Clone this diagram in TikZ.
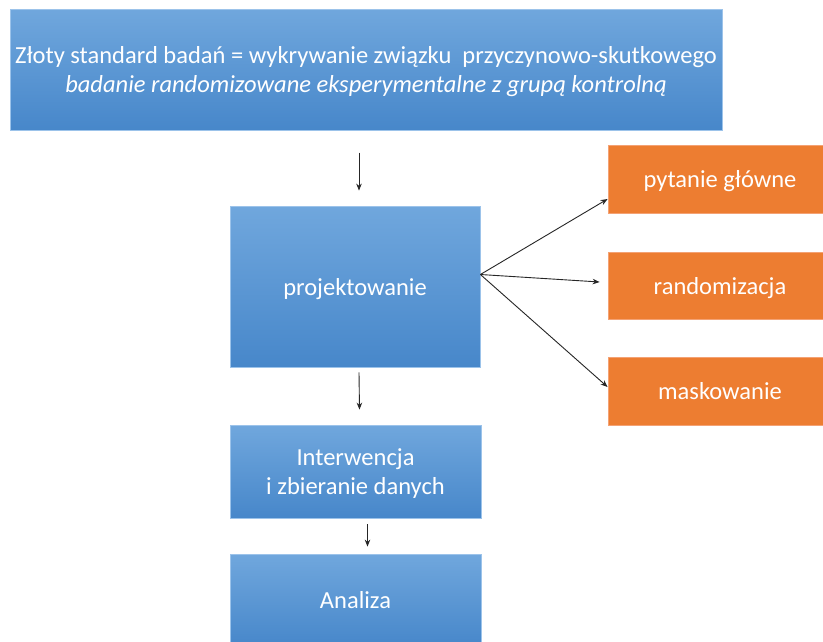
\documentclass[tikz,border=0pt]{standalone}
\usepackage{fontspec}
\setmainfont{Carlito}
\usetikzlibrary{arrows.meta,calc}
\definecolor{blueTop}{HTML}{70A7DD}
\definecolor{blueBot}{HTML}{4787CA}
\definecolor{blueEdge}{HTML}{9CC3EA}
\definecolor{orangeFill}{HTML}{ED7D31}
\definecolor{orangeEdge}{HTML}{F4A274}
\tikzset{
  bluebox/.style={rectangle, top color=blueTop, bottom color=blueBot,
    draw=blueEdge, line width=0.8pt, text=white, align=center,
    inner sep=0pt, text depth=0pt, font=\fontsize{24.5}{29}\selectfont},
  orangebox/.style={rectangle, fill=orangeFill, draw=orangeEdge,
    line width=0.8pt, text=white, align=center, inner sep=0pt, text depth=0pt,
    minimum width=224pt, font=\fontsize{24.5}{29}\selectfont},
  arr/.style={-{Stealth[length=7pt,width=5.5pt]}, line width=0.9pt, black!85}
}
\begin{document}
\begin{tikzpicture}[x=1pt,y=-1pt]
  \clip (0,0) rectangle (823,641);
  \fill[white] (0,0) rectangle (823,641);

  % main column
  \node[bluebox, minimum width=712pt, minimum height=121pt] (top) at (366,69.5)
    {Złoty standard badań = wykrywanie związku\ \ przyczynowo-skutkowego\\
     \itshape badanie randomizowane eksperymentalne z grupą kontrolną};
  \node[bluebox, minimum width=250pt, minimum height=161pt] (proj) at (355,286.5)
    {projektowanie};
  \node[bluebox, minimum width=251pt, minimum height=93pt] (int) at (355.5,471.5)
    {Interwencja\\ i zbieranie danych};
  \node[bluebox, minimum width=251pt, minimum height=92pt] (ana) at (355.5,600)
    {Analiza};

  % design elements
  \node[orangebox, minimum height=68pt] (pyt) at (720,179) {pytanie główne};
  \node[orangebox, minimum height=67pt] (ran) at (720,285.5) {randomizacja};
  \node[orangebox, minimum height=68pt] (mas) at (720,391) {maskowanie};

  % flow between stages
  \draw[arr] ([shift={(4pt,53pt)}]proj.north) -- ([shift={(4pt,15pt)}]proj.north);
  \draw[arr] ([shift={(4pt,-5pt)}]proj.south) -- ([shift={(4pt,15pt)}]int.north);
  \draw[arr] ([shift={(12pt,-6pt)}]int.south) -- ([shift={(12pt,7pt)}]ana.north);

  % fan-out from the design stage
  \coordinate (fan) at ([yshift=12pt]proj.east);
  \draw[arr] (fan) -- ([yshift=-20pt]pyt.west);
  \draw[arr] (fan) -- ([shift={(-8pt,3.5pt)}]ran.west);
  \draw[arr] (fan) -- ([yshift=4pt]mas.west);
\end{tikzpicture}
\end{document}
